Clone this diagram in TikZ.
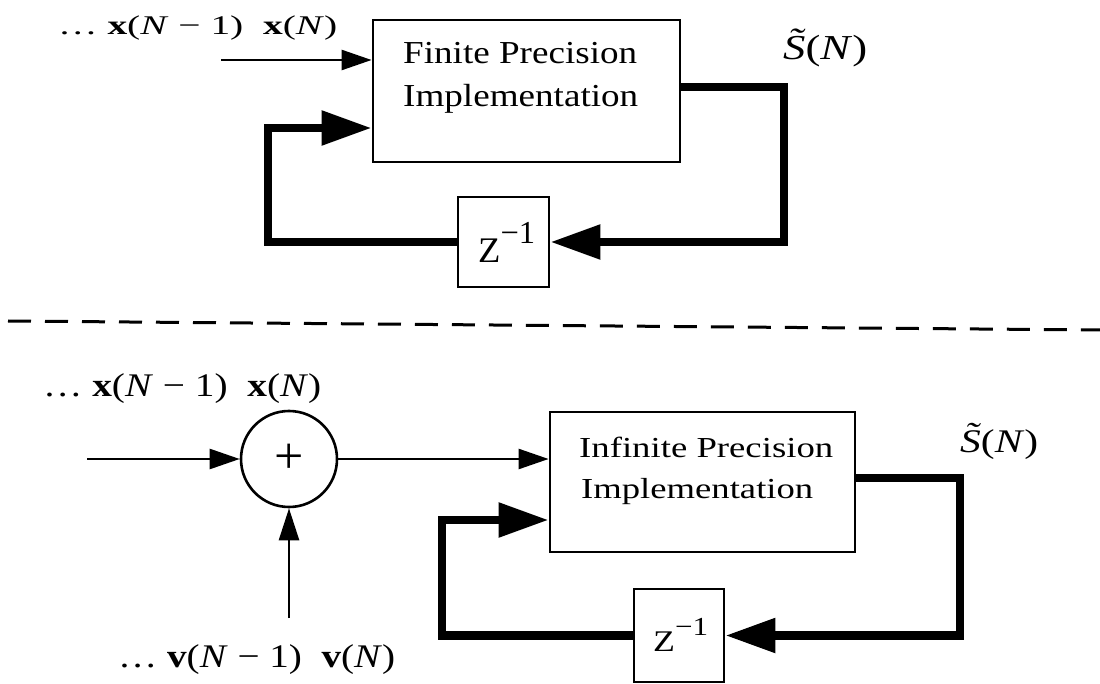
\documentclass[tikz,border=0pt]{standalone}
\usepackage{fontspec}
\setmainfont{Liberation Serif}
\usetikzlibrary{arrows.meta}
% stretch a piece of text to a given width, keeping its height
\newcommand{\fitw}[2]{\resizebox{#1}{\height}{#2}}
\newcommand{\fsz}[1]{\fontsize{#1}{#1}\selectfont}
% italic S with a tilde set above it
\newcommand{\St}{\textit{S\llap{\raisebox{0.2em}{˜}\kern0.06em}}}
\begin{document}
\begin{tikzpicture}[x=1pt,y=-1pt,
  blk/.style={draw, line width=2.8pt, inner sep=0pt},
  txt/.style={anchor=base west, inner sep=0pt},
  thin/.style={line width=2.5pt, -{Triangle[length=30pt,width=20pt]}},
  fat/.style={line width=8.5pt},
  fatarrow/.style={line width=8.5pt, -{Triangle[length=50pt,width=33pt]}},
]
\path[use as bounding box] (0,0) rectangle (1100,684);

% ---------- finite precision loop ----------
\node[blk, minimum width=307pt, minimum height=142pt] (fbox) at (526.5,91) {};
\node[txt] (ftxt1) at (403,64) {\fsz{32}\fitw{234pt}{Finite Precision}};
\node[txt] (ftxt2) at (403,107) {\fsz{32}\fitw{235pt}{Implementation}};
\node[blk, minimum width=91pt, minimum height=90pt] (fz) at (503.5,242) {};
\node[txt] (fztxt) at (478,263) {\fsz{36}\fitw{57pt}{Z\raisebox{19pt}{\fsz{32}−1}}};

\node[txt] (fin) at (58,35) {\fsz{27}\fitw{279pt}{\dots\ \textbf{x}(\textit{N} − 1)\ \ \textbf{x}(\textit{N})}};
\node[txt] (fout) at (783,60) {\fsz{35}\fitw{84pt}{\St(\textit{N})}};

\coordinate (fsrc) at (221,60);
\draw[thin] (fsrc) -- (fsrc -| fbox.west);

\coordinate (fo) at (680,87);
\coordinate (fr) at (784,87);
\draw[fat] (fo) -- (fr) -- (fr |- fz.east) -- ++(-60,0);
\draw[fatarrow] (fr |- fz.east) -- (fz.east);

\coordinate (fl) at (268,128);
\draw[fat] (fz.west) -- (fz.west -| fl) -- (fl) -- ++(40,0);
\draw[fatarrow] (fl) -- (fl -| fbox.west);

% ---------- separator ----------
\coordinate (sepa) at (8,321);
\coordinate (sepb) at (1100,330);
\draw[line width=3pt, dash pattern=on 23pt off 14pt] (sepa) -- (sepb);

% ---------- infinite precision loop with additive noise ----------
\node[circle, draw, line width=2.6pt, minimum size=96pt, inner sep=0pt] (sum) at (289,459) {};
\node[inner sep=0pt] (plus) at (sum.center) {\fsz{52}+};

\node[blk, minimum width=305pt, minimum height=140pt] (ibox) at (702.5,482) {};
\node[txt] (itxt1) at (579,457) {\fsz{29}\fitw{254pt}{Infinite Precision}};
\node[txt] (itxt2) at (581,498) {\fsz{29}\fitw{232pt}{Implementation}};
\node[blk, minimum width=90pt, minimum height=93pt] (iz) at (679,635.5) {};
\node[txt] (iztxt) at (653,651) {\fsz{30}\fitw{55pt}{Z\raisebox{16pt}{\fsz{26}−1}}};

\node[txt] (xin) at (43,397) {\fsz{33}\fitw{278pt}{\dots\ \textbf{x}(\textit{N} − 1)\ \ \textbf{x}(\textit{N})}};
\node[txt] (vin) at (118,667) {\fsz{33}\fitw{277pt}{\dots\ \textbf{v}(\textit{N} − 1)\ \ \textbf{v}(\textit{N})}};
\node[txt] (iout) at (960,452) {\fsz{33}\fitw{78pt}{\St(\textit{N})}};

\coordinate (xsrc) at (87,459);
\draw[thin] (xsrc) -- (sum.west);
\coordinate (vsrc) at (289,618);
\draw[line width=2.5pt, -{Triangle[length=32pt,width=20pt]}] (vsrc) -- (sum.south);
\draw[thin] (sum.east) -- (sum.east -| ibox.west);

\coordinate (io) at (855,478);
\coordinate (ir) at (960,478);
\draw[fat] (io) -- (ir) -- (ir |- iz.east) -- ++(-50,0);
\draw[fatarrow] (ir |- iz.east) -- (iz.east);

\coordinate (il) at (442,520);
\draw[fat] (iz.west) -- (iz.west -| il) -- (il) -- ++(30,0);
\draw[fatarrow] (il) -- (il -| ibox.west);
\end{tikzpicture}
\end{document}
